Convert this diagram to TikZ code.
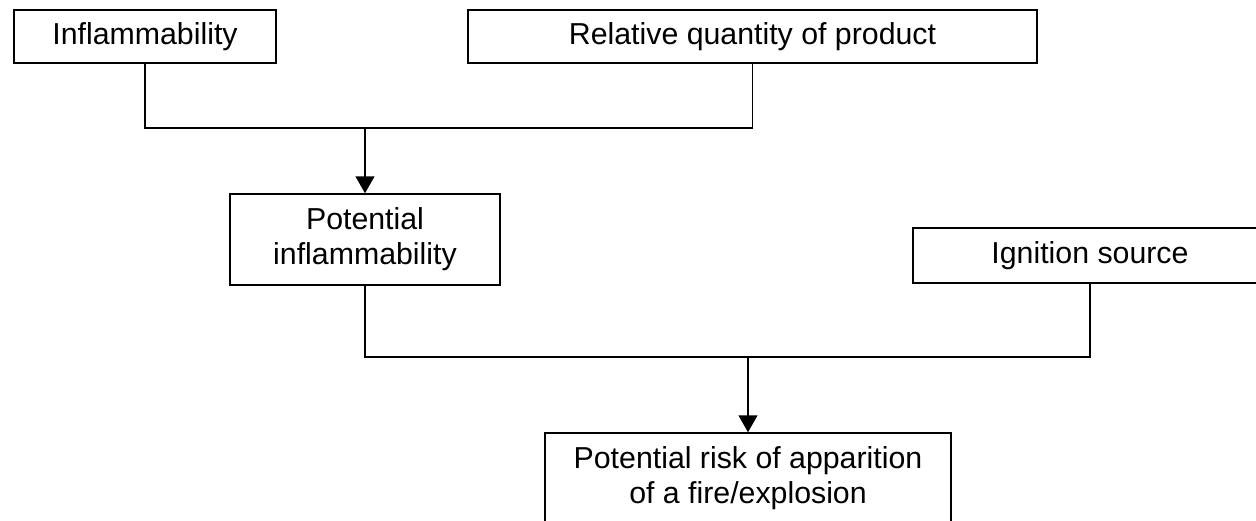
\documentclass[tikz,border=0pt]{standalone}
\usepackage{fontspec}
\setmainfont{Liberation Sans}
\usetikzlibrary{arrows.meta}

\begin{document}
\begin{tikzpicture}[x=1pt,y=-1pt,
  every node/.style={font=\fontsize{30.3}{35}\selectfont},
  factor/.style={draw, line width=1.5pt, rectangle, inner sep=0pt, align=center},
  link/.style={line width=1.5pt},
  flow/.style={link, -{Triangle[width=19pt,length=17pt]}}]
  \useasboundingbox (0,0) rectangle (1256,520);
  \clip (0,0) rectangle (1256,520);

  % input factors
  \node[factor, minimum width=262pt, minimum height=53pt] (infl) at (145,36.5) {Inflammability};
  \node[factor, minimum width=569pt, minimum height=53pt] (rel) at (752.5,36.5) {Relative quantity of product};
  \node[factor, minimum width=270pt, minimum height=91pt] (pot) at (365,239.5) {Potential\\inflammability};
  \node[factor, minimum width=354pt, minimum height=55pt] (ign) at (1090,255.5) {Ignition source};
  \node[factor, minimum width=406pt, minimum height=90pt] (risk) at (748,478) {Potential risk of apparition\\of a fire/explosion};

  % junction points of the combining lines
  \coordinate (j1) at (365,128);
  \coordinate (j2) at (748,357);

  \draw[link] (infl.south) |- (j1) -| (rel.south);
  \draw[flow] (j1) -- (pot.north);
  \draw[link] (pot.south) |- (j2) -| (ign.south);
  \draw[flow] (j2) -- (risk.north);
\end{tikzpicture}
\end{document}
